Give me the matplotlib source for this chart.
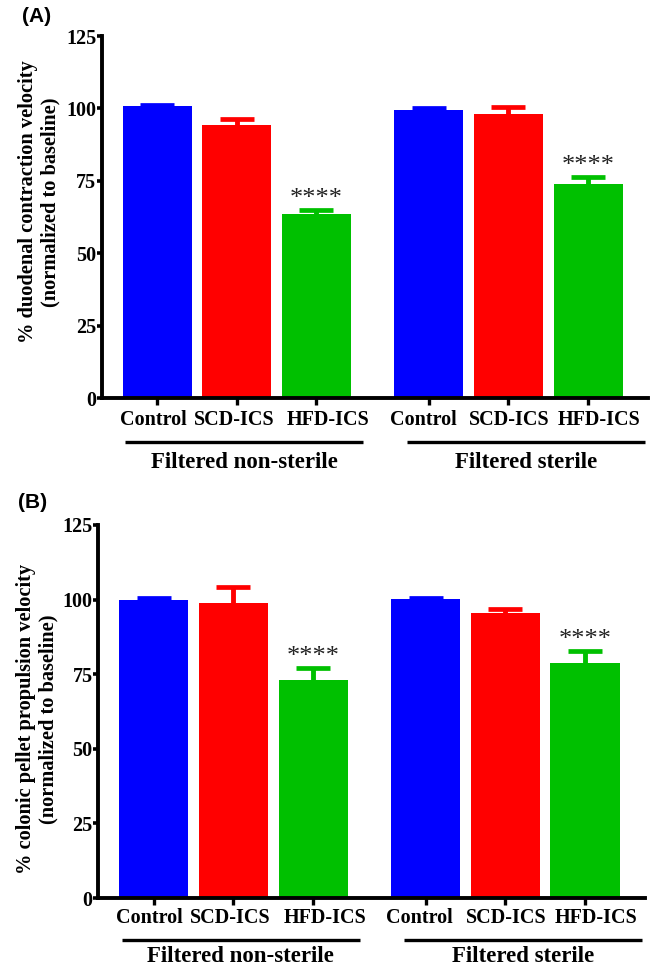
import matplotlib
matplotlib.use("Agg")
import matplotlib.pyplot as plt
import matplotlib.transforms as mtransforms

plt.rcParams['font.family'] = ['Liberation Serif', 'DejaVu Serif']
plt.rcParams['font.weight'] = 'bold'

categories = ['Control', 'SCD-ICS', 'HFD-ICS', 'Control', 'SCD-ICS', 'HFD-ICS']
groups = ['Filtered non-sterile', 'Filtered sterile']
colors = ['#0000FF', '#FF0000', '#00C000', '#0000FF', '#FF0000', '#00C000']

# panel A: duodenal contraction velocity (% of baseline)
duo_mean = [100.7, 94.2, 63.4, 99.3, 98.0, 73.8]
duo_sem = [0.6, 2.1, 1.5, 0.8, 2.6, 2.6]

# panel B: colonic pellet propulsion velocity (% of baseline)
col_mean = [99.8, 98.9, 73.2, 100.1, 95.6, 78.7]
col_sem = [0.6, 5.3, 4.0, 0.6, 1.4, 4.1]

# bars flagged with ****
sig = [False, False, True, False, False, True]

yticks = [0, 25, 50, 75, 100, 125]

W, H = 652, 968
fig = plt.figure(figsize=(W / 100, H / 100), dpi=100)

gap = 1.416
xpos = [0, 1, 2, gap + 2, gap + 3, gap + 4]
# small horizontal nudges (px) of the category labels, as in the original
label_dx = [-4, -3, 12, -6, 1, 11]
# group underline extents relative to first / last bar of the group
line_ext = [(-0.405, 0.59), (-0.27, 0.72)]


def draw_panel(rect, means, sems, ylabel, letter, letter_xy, ylab_x, ylab_y,
               lab_off, line_off, text_off):
    ax = fig.add_axes(rect)
    ax.bar(xpos, means, width=0.868, color=colors, zorder=2)
    for x, m, s, c in zip(xpos, means, sems, colors):
        eb = ax.errorbar(x, m, yerr=[[0], [s]], fmt='none', ecolor=c,
                         elinewidth=3.5, capsize=12, capthick=3.4, zorder=3)
        eb[1][0].set_visible(False)
    for x, m, s, flag in zip(xpos, means, sems, sig):
        if flag:
            ax.annotate('****', xy=(x, m + s), xytext=(0, 5),
                        textcoords='offset pixels', ha='center', va='baseline',
                        fontsize=19, fontweight='normal', color='#222222')
    ax.set_ylim(0, 125)
    ax.set_xlim(-0.698, 6.17)
    ax.set_yticks(yticks)
    ax.set_yticklabels([str(t) for t in yticks], fontsize=14.5, fontweight='bold')
    ax.set_xticks(xpos)
    ax.set_xticklabels([])
    ax.tick_params(axis='y', length=3.5, width=2.6, pad=0.5)
    ax.tick_params(axis='x', length=5, width=2.4)
    for side in ['top', 'right']:
        ax.spines[side].set_visible(False)
    for side in ['left', 'bottom']:
        ax.spines[side].set_linewidth(2.8)

    base = mtransforms.blended_transform_factory(ax.transData, ax.transAxes)
    for x, name, dx in zip(xpos, categories, label_dx):
        tr = mtransforms.offset_copy(base, fig=fig, x=dx, y=-lab_off, units='dots')
        ax.text(x, 0, name, transform=tr, ha='center', va='center',
                fontsize=14.5, fontweight='bold')
    line_tr = mtransforms.offset_copy(base, fig=fig, y=-line_off, units='dots')
    text_tr = mtransforms.offset_copy(base, fig=fig, y=-text_off, units='dots')
    for g, name in enumerate(groups):
        xa = xpos[3 * g] + line_ext[g][0]
        xb = xpos[3 * g + 2] + line_ext[g][1]
        ax.plot([xa, xb], [0, 0], color='black', lw=2.4,
                transform=line_tr, clip_on=False, solid_capstyle='butt')
        ax.text((xa + xb) / 2, 0, name, transform=text_tr, ha='center',
                va='center', fontsize=16.5, fontweight='bold')

    fig.text(ylab_x / W, 1 - ylab_y / H, ylabel, rotation=90, ha='center',
             va='center', multialignment='center', fontsize=14.7, fontweight='bold',
             linespacing=1.15)
    fig.text(letter_xy[0] / W, 1 - letter_xy[1] / H, letter, ha='left', va='center',
             fontsize=15, fontweight='bold', family='Liberation Sans')
    return ax


draw_panel([101.7 / W, 1 - 398 / H, (648 - 101.7) / W, 362 / H],
           duo_mean, duo_sem,
           '% duodenal contraction velocity\n(normalized to baseline)',
           '(A)', (22, 16.5), 39, 202, 22, 44, 64)
draw_panel([98.3 / W, 1 - 898 / H, (645 - 98.3) / W, 373 / H],
           col_mean, col_sem,
           '% colonic pellet propulsion velocity\n(normalized to baseline)',
           '(B)', (18, 503), 37, 719, 20, 42, 59)

fig.savefig('out.png', dpi=100)
